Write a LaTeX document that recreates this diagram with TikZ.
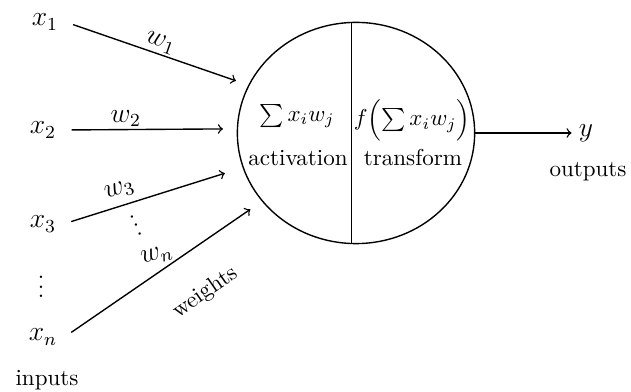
\documentclass[tikz,border=0pt]{standalone}
\usepackage{amsmath,amssymb}
\usepackage{tikz}
\usetikzlibrary{shapes.geometric,calc}

\begin{document}
\begin{tikzpicture}[x=0.434pt,y=-0.434pt,
  wire/.style={->,semithick}, inwire/.style={wire,shorten <=3.5pt},
  inp/.style={inner sep=3pt,font=\large},
  cell/.style={ellipse,draw,semithick,minimum width=103pt,minimum height=96pt,inner sep=0pt},
  lab/.style={inner sep=1pt,font=\large}]
\useasboundingbox (0,0) rectangle (631,392);
\node[cell] (n) at (356,133) {};
\draw[semithick] ([xshift=-2pt]n.north)--([xshift=-2pt]n.south);
\node (sum) at (297,116) {$\sum x_i w_j$};
\node (act) at (298,158) {activation};
\node (f) at (412,120) {$f\Bigl(\sum x_i w_j\Bigr)$};
\node (trf) at (413,158) {transform};
\node[inp] (x1) at (45,22) {$x_1$};
\node[inp] (x2) at (43,130) {$x_2$};
\node[inp] (x3) at (43,224) {$x_3$};
\node[inner sep=0pt] (dots) at (41,280) {$\vdots$};
\node[inp] (xn) at (43,337) {$x_n$};
\node (inputs) at (47,380) {inputs};
\node[inp] (y) at (586,133) {$y$};
\node (outputs) at (588,172) {outputs};
\draw[inwire,shorten >=5.7pt] (x1.east)--node[lab,above,sloped]{$w_1$}(n.156);
\draw[inwire,shorten >=6pt] (x2.east)--node[lab,above,sloped,pos=0.36]{$w_2$}(n.178);
\draw[inwire,shorten >=8.1pt] (x3.east)--node[lab,above=2pt,sloped,pos=0.34]{$w_3$}(n.197);
\draw[inwire,shorten >=6.1pt] (xn.east)--node[inner sep=1pt,below=13pt,sloped,pos=0.59]{weights}(n.216);
\node[inner sep=0pt,rotate=25] (wdots) at (133,219) {$\vdots$};
\node[lab,rotate=15] (wn) at (157,256) {$w_n$};
\draw[wire] (n.east)--(y);
\end{tikzpicture}
\end{document}
